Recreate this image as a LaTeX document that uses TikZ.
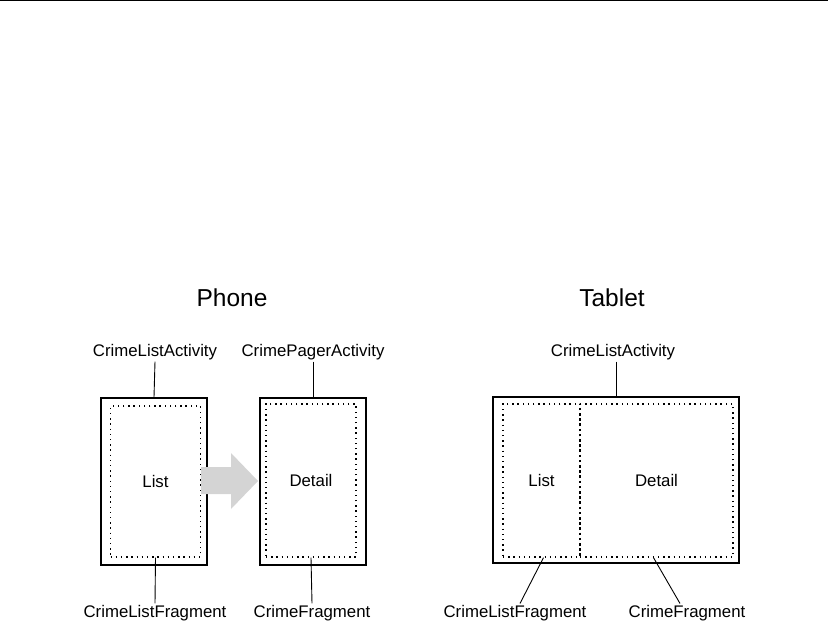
\documentclass[tikz,border=0pt]{standalone}
\usepackage{fontspec}
\setmainfont{Liberation Sans}
\usepackage{tikz}
\definecolor{arrowfill}{RGB}{212,212,212}
\newcommand{\lblfont}{\fontsize{16.8}{19}\selectfont}
\newcommand{\headfont}{\fontsize{24.5}{28}\selectfont}

\begin{document}
\begin{tikzpicture}[x=1pt, y=-1pt,
  frame/.style={draw, line width=1.7pt, rectangle, inner sep=0pt},
  frag/.style={draw, line width=1.3pt, dash pattern=on 1.4pt off 3.8pt,
               rectangle, inner sep=0pt, font=\lblfont},
  lbl/.style={font=\lblfont, inner sep=1.5pt},
  head/.style={font=\headfont},
  link/.style={draw, line width=0.9pt},
]
\useasboundingbox (0,0) rectangle (828,624);
\draw[line width=1.5pt] (0,0.6) -- (828,0.6);

% ---- Titles ----
\node[head] (phone)  at (232,298) {Phone};
\node[head] (tablet) at (612,298) {Tablet};

% ---- Phone: two activities ----
\node[frame, minimum width=106pt, minimum height=167pt] (actA) at (154,481.5) {};
\node[frag,  minimum width=90pt,  minimum height=151pt] (listA) at (155.5,481.5) {List};
\node[frame, minimum width=106pt, minimum height=167pt] (actB) at (313,481.5) {};
\node[frag,  minimum width=90pt,  minimum height=153pt] (detB) at (311,480.5) {Detail};

% ---- Hand-off arrow (lies over the first frame's edge) ----
\fill[arrowfill] (201,467) -- (231,467) -- (231,453) -- (258,481)
  -- (231,509) -- (231,494) -- (201,494) -- cycle;

% ---- Tablet: one activity, two fragments ----
\node[frame, minimum width=246pt, minimum height=166pt] (actT) at (616,480) {};
\node[frag,  minimum width=77pt,  minimum height=153pt] (listT) at (541.5,480.5) {List};
\node[frag,  minimum width=153pt, minimum height=153pt] (detT)  at (656.5,480.5) {Detail};

% ---- Labels ----
\node[lbl] (claA) at (155,352) {CrimeListActivity};
\node[lbl] (cpa)  at (313,352) {CrimePagerActivity};
\node[lbl] (clfA) at (155,613) {CrimeListFragment};
\node[lbl] (cfB)  at (312,613) {CrimeFragment};
\node[lbl] (claT) at (613,352) {CrimeListActivity};
\node[lbl] (clfT) at (515,613) {CrimeListFragment};
\node[lbl] (cfT)  at (687,613) {CrimeFragment};

% ---- Leader lines ----
\draw[link] (claA.south) -- (actA.north);
\draw[link] (cpa.south)  -- (actB.north);
\draw[link] (clfA.north) -- (listA.south);
\draw[link] (cfB.north)  -- (detB.south);
\draw[link] (claT.south -| actT.north) -- (actT.north);
\draw[link] ([xshift=5pt]clfT.north) -- ([xshift=2pt]listT.south);
\draw[link] ([xshift=-7pt]cfT.north) -- ([xshift=-3pt]detT.south);
\end{tikzpicture}
\end{document}
